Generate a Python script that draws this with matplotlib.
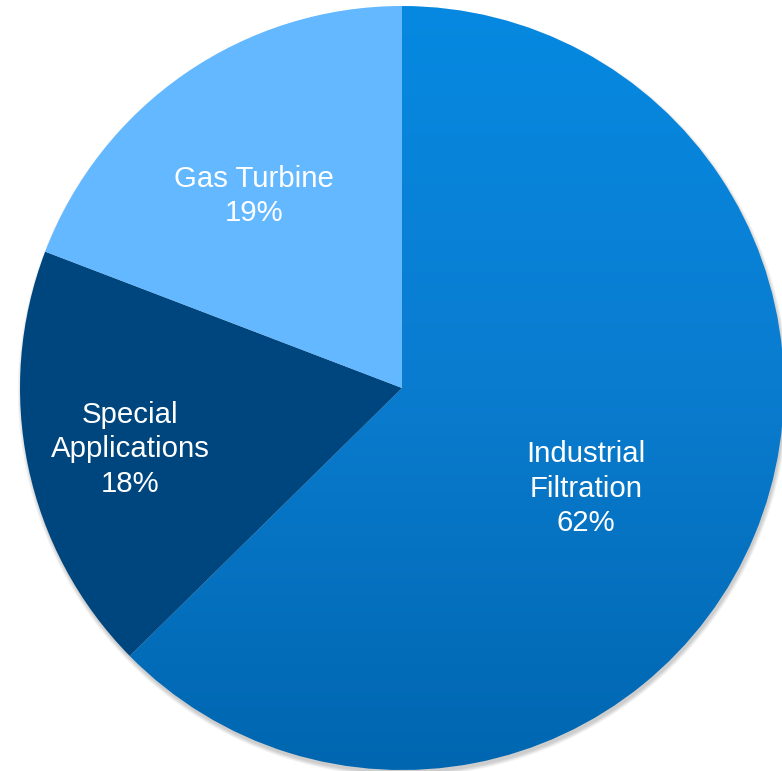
import matplotlib.pyplot as plt
import numpy as np
from matplotlib.colors import LinearSegmentedColormap

# revenue split by segment (percent)
segments = ["Industrial\nFiltration", "Special\nApplications", "Gas Turbine"]
shares = [62, 18, 19]
colors = ["#0479d0", "#00467e", "#63b8ff"]

# where each label sits inside its wedge (data units, pie radius = 1)
label_xy = [(0.482, -0.264), (-0.712, -0.160), (-0.387, 0.503)]

W, H, DPI = 782, 771, 100
cx, cy, R = 402, 388, 382  # pie centre and radius in pixels

fig = plt.figure(figsize=(W / DPI, H / DPI), dpi=DPI)
ax = fig.add_axes([0, 0, 1, 1])

wedges, _ = ax.pie(shares, colors=colors, startangle=90, counterclock=False,
                   radius=1, wedgeprops=dict(linewidth=0))
ax.set_aspect("auto")
ax.set_xlim(-cx / R, (W - cx) / R)
ax.set_ylim(-(H - cy) / R, cy / R)
ax.axis("off")

# soft drop shadow under the pie
xs = np.linspace(-cx / R, (W - cx) / R, W)
ys = np.linspace(-(H - cy) / R, cy / R, H)
gx, gy = np.meshgrid(xs, ys)
dist = np.hypot(gx - 0.003, gy + 0.009)
alpha = np.clip((1.0 + 0.011 - dist) / 0.011, 0, 1) * 0.3
shadow = np.zeros((H, W, 4))
shadow[..., :3] = 0.35
shadow[..., 3] = alpha
ax.imshow(shadow, extent=[xs[0], xs[-1], ys[0], ys[-1]], origin="lower",
          zorder=0, interpolation="bilinear")

# vertical gradient on the Industrial Filtration wedge
big = wedges[0]
big.set_facecolor("none")
grad_cmap = LinearSegmentedColormap.from_list("ind", ["#0066b0", "#0a7ccf", "#0689e1"])
grad = np.linspace(0, 1, 256).reshape(-1, 1)
im = ax.imshow(grad, cmap=grad_cmap, extent=[-1, 1, -1, 1], origin="lower",
               aspect="auto", zorder=1.5)
im.set_clip_path(big)
for w in wedges[1:]:
    w.set_zorder(2)

for name, val, (tx, ty) in zip(segments, shares, label_xy):
    ax.text(tx, ty, f"{name}\n{val}%", ha="center", va="center", color="white",
            fontsize=21.2, family="Liberation Sans", linespacing=1.3, zorder=3)

fig.savefig("out.png", dpi=DPI)
